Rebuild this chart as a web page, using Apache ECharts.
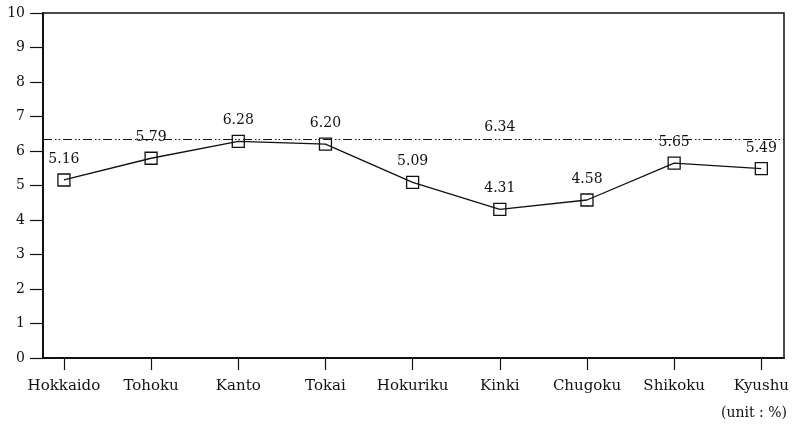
<!DOCTYPE html>
<html>
<head>
<meta charset="utf-8">
<script src="https://cdn.jsdelivr.net/npm/echarts@6/dist/echarts.min.js"></script>
<style>
  html, body { margin: 0; padding: 0; background: #fff; }
  #chart { width: 794px; height: 425px; }
</style>
</head>
<body>
<div id="chart"></div>
<script>
const regions = ['Hokkaido', 'Tohoku', 'Kanto', 'Tokai', 'Hokuriku', 'Kinki', 'Chugoku', 'Shikoku', 'Kyushu']
const rates = [5.16, 5.79, 6.28, 6.20, 5.09, 4.31, 4.58, 5.65, 5.49]
const average = 6.34
const averageLabelAt = 5 // Kinki
const yTicks = [0, 1, 2, 3, 4, 5, 6, 7, 8, 9, 10]

const font = '"DejaVu Serif", "Liberation Serif", serif'
const ink = '#111'

const chart = echarts.init(document.getElementById('chart'))
const idx = regions.map((_, i) => i)

chart.setOption({
  animation: false,
  backgroundColor: '#fff',
  textStyle: { fontFamily: font, color: ink },
  title: {
    text: '(unit : %)',
    right: 2,
    top: 401,
    textStyle: { fontFamily: font, fontSize: 14, fontWeight: 'normal', color: ink },
  },
  grid: {
    left: 43, right: 10, top: 13, bottom: 67,
    show: true, borderColor: ink, borderWidth: 1.5, backgroundColor: 'transparent',
  },
  xAxis: {
    type: 'value',
    min: -0.24,
    max: 8.26,
    splitLine: { show: false },
    axisLine: { onZero: false, lineStyle: { color: ink, width: 2 } },
    axisTick: { show: true, customValues: idx, length: 12, lineStyle: { color: ink, width: 1.2 } },
    axisLabel: {
      customValues: idx,
      formatter: (v) => regions[Math.round(v)],
      margin: 21,
      fontSize: 15,
      color: ink,
      fontFamily: font,
    },
  },
  yAxis: {
    type: 'value',
    min: 0,
    max: 10,
    interval: 1,
    splitLine: { show: false },
    axisLine: { show: true, onZero: false, lineStyle: { color: ink, width: 2 } },
    axisTick: { show: true, length: 13, lineStyle: { color: ink, width: 1.2 } },
    axisLabel: {
      margin: 18,
      fontSize: 14,
      color: ink,
      fontFamily: font,
      formatter: (v) => (yTicks.includes(v) ? String(v) : ''),
    },
  },
  series: [
    {
      type: 'line',
      data: rates.map((v, i) => [i, v]),
      symbol: 'rect',
      symbolSize: 12,
      itemStyle: { color: 'transparent', borderColor: ink, borderWidth: 1.3 },
      lineStyle: { color: ink, width: 1.3 },
      label: {
        show: true,
        position: 'top',
        distance: 7,
        fontSize: 14,
        color: ink,
        fontFamily: font,
        formatter: (p) => p.value[1].toFixed(2),
      },
      markLine: {
        silent: true,
        symbol: 'none',
        label: { show: false },
        lineStyle: { color: ink, width: 1.2, type: [9, 3, 1.5, 2, 1.5, 3] },
        data: [{ yAxis: average }],
      },
      markPoint: {
        symbol: 'circle',
        symbolSize: 1,
        itemStyle: { color: 'transparent' },
        label: {
          show: true,
          position: 'top',
          distance: 4,
          fontSize: 14,
          color: ink,
          fontFamily: font,
          formatter: average.toFixed(2),
        },
        data: [{ coord: [averageLabelAt, average] }],
      },
    },
  ],
})
</script>
</body>
</html>
